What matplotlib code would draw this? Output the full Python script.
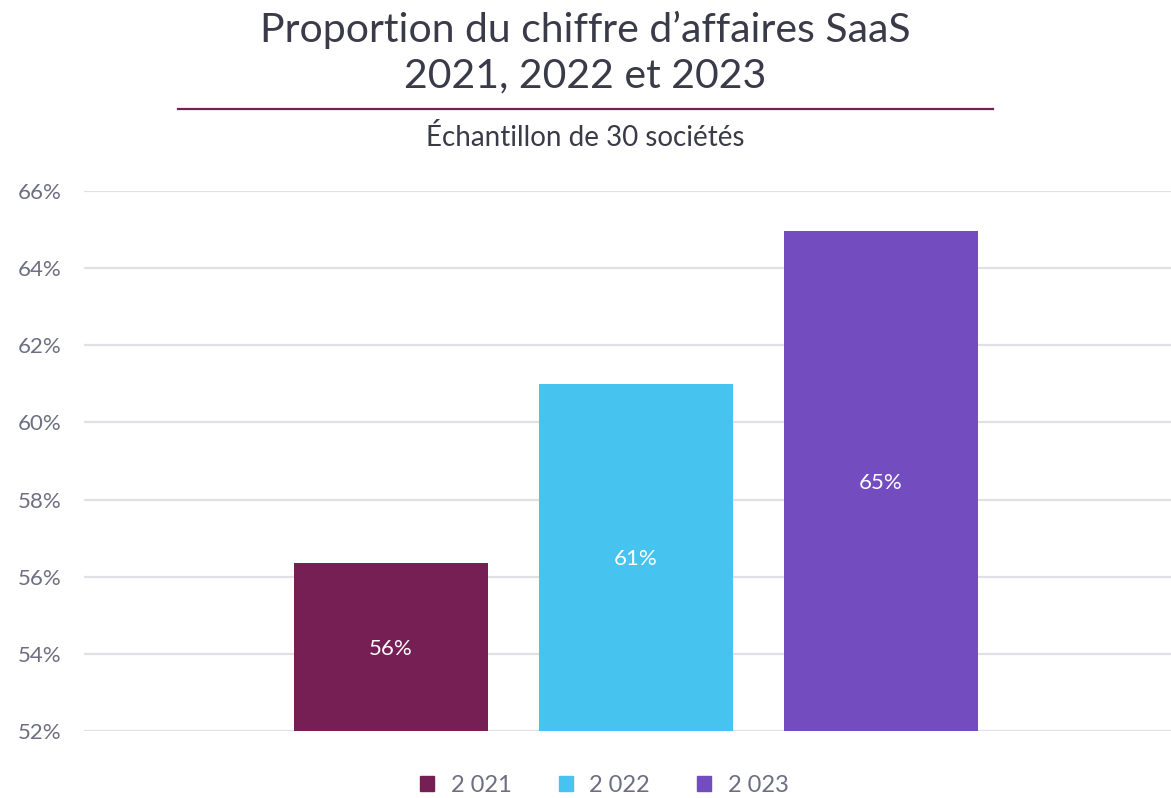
import matplotlib
matplotlib.use("Agg")
import matplotlib.pyplot as plt
from matplotlib.lines import Line2D
from matplotlib.patches import Patch

plt.rcParams["font.family"] = ["Lato", "DejaVu Sans"]

# Data
years = ["2 021", "2 022", "2 023"]
values = [56.35, 61.0, 64.95]
value_labels = ["56%", "61%", "65%"]
colors = ["#751f55", "#47c3f0", "#734cc0"]
y_ticks = [52, 54, 56, 58, 60, 62, 64, 66]

TEXT_DARK = "#3a3a48"
TEXT_GREY = "#6e6e82"
GRID = "#e0e0e6"

fig = plt.figure(figsize=(11.71, 7.98), dpi=100)
ax = fig.add_axes([84 / 1171, 1 - 731 / 798, 1 - 84 / 1171, (731 - 191) / 798])

x = list(range(len(years)))
bars = ax.bar(x, values, width=0.792, color=colors, zorder=3)

for bar, lab in zip(bars, value_labels):
    h = bar.get_height()
    ax.text(bar.get_x() + bar.get_width() / 2, (52 + h) / 2, lab,
            ha="center", va="center_baseline", color="white", fontsize=16, zorder=4)

ax.set_ylim(52, 66)
ax.set_xlim(-1.253, 3.184)
ax.set_yticks(y_ticks)
ax.set_yticklabels([f"{t}%" for t in y_ticks])
ax.set_xticks([])
ax.yaxis.grid(True, color=GRID, linewidth=1.6, zorder=0)
ax.tick_params(axis="y", length=0, pad=16, labelsize=16, labelcolor=TEXT_GREY)
for s in ax.spines.values():
    s.set_visible(False)

# Title, rule and subtitle
fig.text(0.5, 1 - 30 / 798, "Proportion du chiffre d\u2019affaires SaaS", ha="center",
         va="center", fontsize=29.5, color=TEXT_DARK)
fig.text(0.5, 1 - 76 / 798, "2021, 2022 et 2023", ha="center", va="center",
         fontsize=29.5, color=TEXT_DARK)
fig.add_artist(Line2D([178 / 1171, 993 / 1171], [1 - 109 / 798] * 2,
                      transform=fig.transFigure, color="#751f55", linewidth=1.6))
fig.text(0.5, 1 - 137 / 798, "\u00c9chantillon de 30 soci\u00e9t\u00e9s", ha="center",
         va="center", fontsize=20, color=TEXT_DARK)

handles = [Patch(color=c, label=y) for c, y in zip(colors, years)]
fig.legend(handles=handles, loc="center", bbox_to_anchor=(0.516, 1 - 785 / 798), ncol=3,
           frameon=False, fontsize=17, labelcolor=TEXT_GREY, handlelength=0.6,
           handleheight=0.6, handletextpad=0.7, columnspacing=2.0)

fig.savefig("out.png", dpi=100)
